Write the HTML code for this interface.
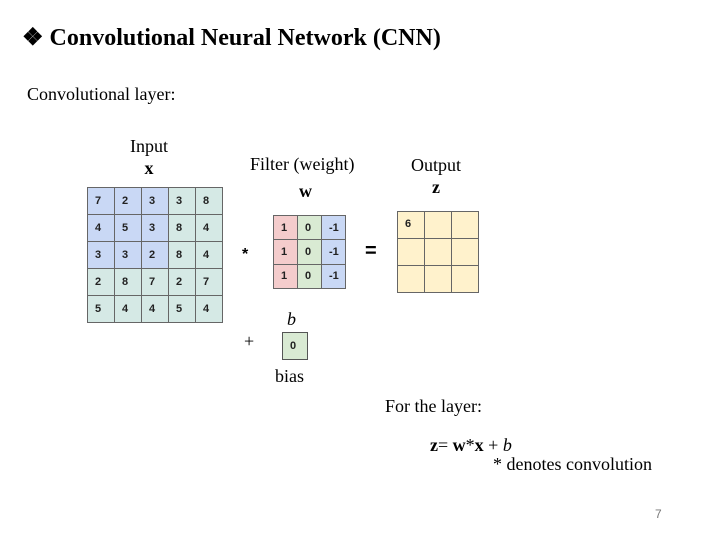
<!DOCTYPE html>
<html><head><style>
body{margin:0;width:720px;height:540px;background:#fff;position:relative;overflow:hidden;font-family:"Liberation Serif",serif;}
.t{position:absolute;white-space:nowrap;}
table{border-collapse:collapse;position:absolute;table-layout:fixed;}
td{border:1px solid #666;font-family:"Liberation Sans",sans-serif;font-weight:bold;font-size:11px;padding:0 0 0 7px;text-align:left;color:#222;box-sizing:border-box;}
.b{background:#c9d8f5}.g{background:#d5e9e5}.p{background:#f4cccc}.gr{background:#d9ead3}.y{background:#fff2cc}
.o td{width:27px;height:27px;}
</style></head><body>
<div class="t" style="left:22px;top:23px;font-size:24px;font-weight:bold;">❖&nbsp;Convolutional Neural Network (CNN)</div>
<div class="t" style="left:27px;top:84px;font-size:18px;">Convolutional layer:</div>
<div class="t" style="left:130px;top:135px;font-size:18px;text-align:center;line-height:22px;">Input<br><b>x</b></div>
<div class="t" style="left:250px;top:154px;font-size:18px;">Filter (weight)</div>
<div class="t" style="left:299px;top:181px;font-size:18px;font-weight:bold;">w</div>
<div class="t" style="left:411px;top:154px;font-size:18px;text-align:center;line-height:22px;">Output<br><b>z</b></div>
<table style="left:87px;top:187px;width:136px;height:136px;">
<tr><td class="b">7</td><td class="b">2</td><td class="b">3</td><td class="g">3</td><td class="g">8</td></tr>
<tr><td class="b">4</td><td class="b">5</td><td class="b">3</td><td class="g">8</td><td class="g">4</td></tr>
<tr><td class="b">3</td><td class="b">3</td><td class="b">2</td><td class="g">8</td><td class="g">4</td></tr>
<tr><td class="g">2</td><td class="g">8</td><td class="g">7</td><td class="g">2</td><td class="g">7</td></tr>
<tr><td class="g">5</td><td class="g">4</td><td class="g">4</td><td class="g">5</td><td class="g">4</td></tr>
</table>
<div class="t" style="left:242px;top:246px;font-size:16px;font-weight:bold;font-family:'Liberation Sans',sans-serif;">*</div>
<table style="left:273px;top:215px;width:73px;height:74px;">
<tr><td class="p">1</td><td class="gr">0</td><td class="b">-1</td></tr>
<tr><td class="p">1</td><td class="gr">0</td><td class="b">-1</td></tr>
<tr><td class="p">1</td><td class="gr">0</td><td class="b">-1</td></tr>
</table>
<div class="t" style="left:365px;top:240px;font-size:20px;font-weight:bold;font-family:'Liberation Sans',sans-serif;">=</div>
<table class="o" style="left:397px;top:211px;width:82px;">
<tr><td class="y" style="vertical-align:top;padding-top:6px">6</td><td class="y"></td><td class="y"></td></tr>
<tr><td class="y"></td><td class="y"></td><td class="y"></td></tr>
<tr><td class="y"></td><td class="y"></td><td class="y"></td></tr>
</table>
<div class="t" style="left:287px;top:309px;font-size:18px;font-style:italic;">b</div>
<div class="t" style="left:244px;top:331px;font-size:18px;">+</div>
<table style="left:282px;top:332px;width:26px;height:28px;"><tr><td class="gr" style="border:1.5px solid #555">0</td></tr></table>
<div class="t" style="left:275px;top:366px;font-size:18px;">bias</div>
<div class="t" style="left:385px;top:396px;font-size:18px;">For the layer:</div>
<div class="t" style="left:430px;top:435px;font-size:18px;"><b>z</b>= <b>w</b>*<b>x</b> + <i>b</i></div>
<div class="t" style="left:493px;top:454px;font-size:18px;">* denotes convolution</div>
<div class="t" style="left:655px;top:507px;font-size:12px;color:#777;font-family:'Liberation Sans',sans-serif;">7</div>
</body></html>
